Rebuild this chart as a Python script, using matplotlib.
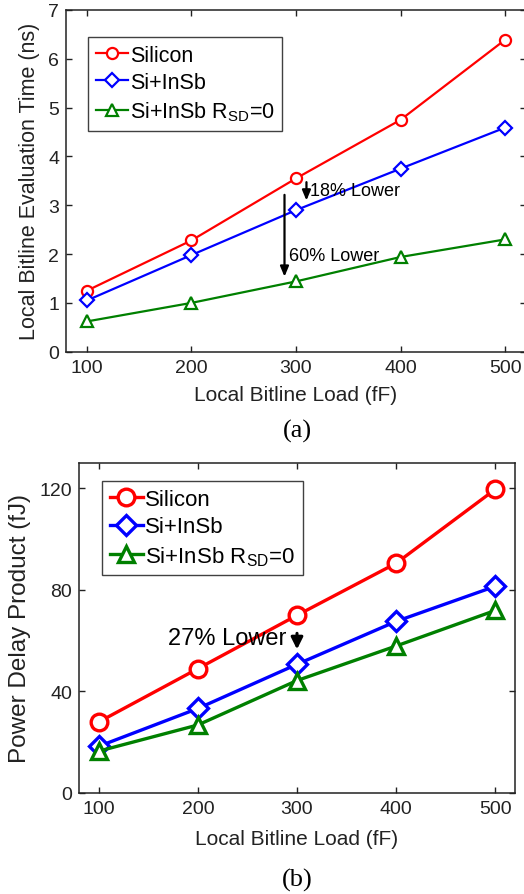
import matplotlib
matplotlib.use("Agg")
import matplotlib.pyplot as plt

plt.rcParams["font.family"] = ["Liberation Sans", "DejaVu Sans"]
plt.rcParams["mathtext.fontset"] = "custom"
plt.rcParams["mathtext.rm"] = "Liberation Sans"
plt.rcParams["mathtext.it"] = "Liberation Sans"

loads = [100, 200, 300, 400, 500]

# (a) local bitline evaluation time, ns
eval_silicon = [1.25, 2.28, 3.55, 4.75, 6.39]
eval_insb = [1.05, 1.98, 2.90, 3.75, 4.59]
eval_insb_rsd0 = [0.62, 1.00, 1.44, 1.94, 2.30]

# (b) power delay product, fJ
pdp_silicon = [28, 49, 70, 90.5, 119.6]
pdp_insb = [18.4, 33.3, 50.7, 67.6, 81.4]
pdp_insb_rsd0 = [16.5, 26.8, 44.3, 57.9, 71.9]

labels = ["Silicon", "Si+InSb", r"Si+InSb R$_{\mathrm{SD}}$=0"]
colors = ["#ff0000", "#0000ff", "#008000"]
markers = ["o", "D", "^"]
msizes = [1.0, 0.85, 1.0]

fig = plt.figure(figsize=(5.24, 8.95), dpi=100)
ax1 = fig.add_axes([66 / 524, 1 - 352.7 / 895, 460 / 524, 341.7 / 895])
ax2 = fig.add_axes([79 / 524, 1 - 794 / 895, 436 / 524, 330 / 895])


def draw(ax, series, lw, ms, mew, legend_size, legend_anchor, xpad):
    for ys, lab, c, m, k in zip(series, labels, colors, markers, msizes):
        ax.plot(loads, ys, color=c, lw=lw, marker=m, ms=ms * k,
                mfc="white", mec=c, mew=mew, label=lab)
    ax.set_xlim(80, 520)
    ax.set_xticks(loads)
    ax.tick_params(direction="in", top=True, right=True, length=4,
                   width=1, color="#222222", labelsize=14, pad=5,
                   labelcolor="#222222")
    for s in ax.spines.values():
        s.set_linewidth(1.1)
        s.set_color("#222222")
    ax.set_xlabel("Local Bitline Load (fF)", fontsize=15, color="#222222",
                  labelpad=xpad)
    leg = ax.legend(loc="upper left", bbox_to_anchor=legend_anchor,
                    borderaxespad=0, fontsize=legend_size, frameon=True,
                    fancybox=False, handlelength=1.5, handletextpad=0.1,
                    borderpad=0.35, labelspacing=0.3)
    leg.get_frame().set_edgecolor("#111111")
    leg.get_frame().set_linewidth(1.0)


draw(ax1, [eval_silicon, eval_insb, eval_insb_rsd0], 1.6, 8, 1.6, 15.5,
     (22 / 460, 1 - 27 / 341.7), 6.5)
ax1.set_ylim(0, 7)
ax1.set_yticks(range(0, 8))
ax1.set_ylabel("Local Bitline Evaluation Time (ns)", fontsize=15.5,
               color="#222222", labelpad=6)

arrow = dict(arrowstyle="-|>,head_width=0.25,head_length=0.6", color="black", lw=1.6)
ax1.annotate("", xy=(289, 1.48), xytext=(289, 3.27), arrowprops=arrow)
ax1.annotate("", xy=(310, 3.04), xytext=(310, 3.53), arrowprops=arrow)
ax1.text(313, 3.3, "18% Lower", fontsize=13, va="center", ha="left")
ax1.text(293, 1.98, "60% Lower", fontsize=13, va="center", ha="left")

draw(ax2, [pdp_silicon, pdp_insb, pdp_insb_rsd0], 2.4, 12, 2.4, 16,
     (23 / 436, 1 - 18 / 330), 9)
ax2.set_ylim(0, 130)
ax2.set_yticks([0, 40, 80, 120])
ax2.set_ylabel("Power Delay Product (fJ)", fontsize=17.5, color="#222222",
               labelpad=6)
ax2.annotate("", xy=(300, 55.5), xytext=(300, 64),
             arrowprops=dict(arrowstyle="-|>,head_width=0.35,head_length=0.7",
                             color="black", lw=2.2))
ax2.text(289, 61, "27% Lower", fontsize=17, va="center", ha="right")

fig.text(297 / 524, 1 - 431 / 895, "(a)", fontsize=19, family="Liberation Serif",
         ha="center", va="center")
fig.text(297 / 524, 1 - 880 / 895, "(b)", fontsize=19, family="Liberation Serif",
         ha="center", va="center")

fig.savefig("out.png", dpi=100, facecolor="white")
